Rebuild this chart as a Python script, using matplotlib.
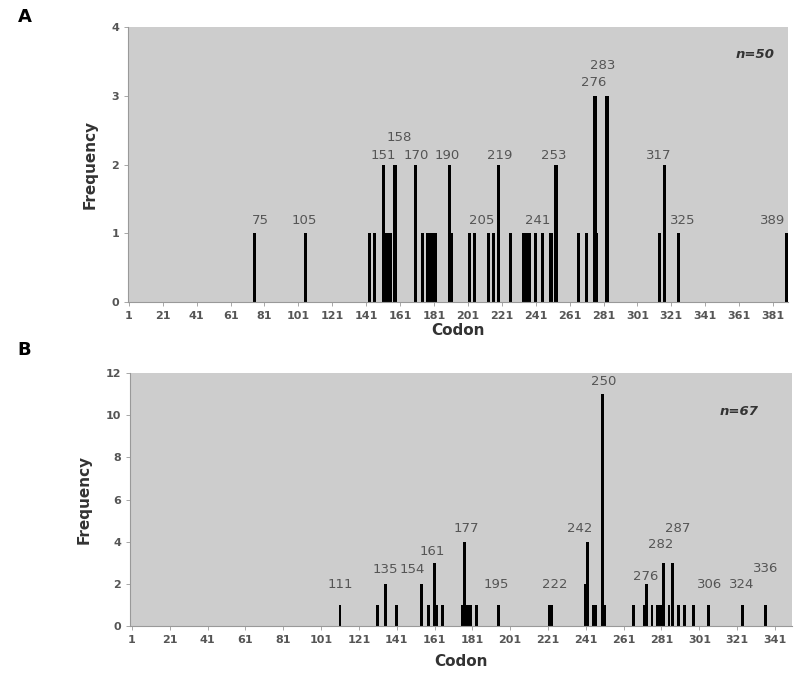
import numpy as np
import matplotlib.pyplot as plt

# Panel A: codon positions and mutation counts (n=50)
codons_a = [75, 105, 143, 146, 151, 152, 153, 154, 155, 158, 170, 174,
            177, 178, 179, 180, 182, 190, 191, 202, 205, 213, 216, 219,
            226, 234, 235, 237, 241, 245, 250, 253, 266, 271, 276, 277,
            283, 314, 317, 325, 389]
freq_a = [1, 1, 1, 1, 2, 1, 1, 1, 1, 2, 2, 1,
          1, 1, 1, 1, 1, 2, 1, 1, 1, 1, 1, 2,
          1, 1, 1, 1, 1, 1, 1, 2, 1, 1, 3, 1,
          3, 1, 2, 1, 1]
labels_a = ['75', '105', '151', '158', '170', '190', '205', '219', '241',
            '253', '276', '283', '317', '325', '389']
label_x_a = [78.6, 104.7, 151, 160.6, 170.8, 189, 209, 219.8, 242,
             251.8, 275, 280.6, 313.5, 328, 380.6]
label_y_a = [1.19, 1.19, 2.14, 2.39, 2.14, 2.14, 1.19, 2.14, 1.19,
             2.14, 3.2, 3.45, 2.14, 1.19, 1.19]

# Panel B: codon positions and mutation counts (n=67)
codons_b = [111, 131, 135, 141, 154, 158, 161, 162, 165, 176, 177, 178,
            179, 180, 183, 195, 222, 223, 241, 242, 245, 246, 250, 251,
            266, 272, 273, 276, 279, 280, 281, 282, 285, 287, 290, 293,
            298, 306, 324, 336]
freq_b = [1, 1, 2, 1, 2, 1, 3, 1, 1, 1, 4, 1,
          1, 1, 1, 1, 1, 1, 2, 4, 1, 1, 11, 1,
          1, 1, 2, 1, 1, 1, 1, 3, 1, 3, 1, 1,
          1, 1, 1, 1]
labels_b = ['111', '135', '154', '161', '177', '195', '222', '242', '250',
            '276', '282', '287', '306', '324', '336']
label_x_b = [111.1, 135, 149, 160, 177.8, 193.7, 224.5, 237.7, 250.4,
             272.8, 280.8, 289.3, 306.5, 323.3, 336]
label_y_b = [1.95, 2.7, 2.7, 3.52, 4.65, 1.95, 1.95, 4.65, 11.59,
             2.34, 3.89, 4.65, 1.95, 1.95, 2.75]

bg = '#cdcdcd'
tick_col = '#555555'
lab_col = '#555555'

fig = plt.figure(figsize=(8, 6.82), dpi=100)
ax_a = fig.add_axes([0.16, 0.557, 0.825, 0.403])
ax_b = fig.add_axes([0.1625, 0.082, 0.8275, 0.371])


def style(ax, xmax, xticks, ymax, ystep, xlab_y):
    ax.set_facecolor(bg)
    ax.set_xlim(0.5, xmax)
    ax.set_ylim(0, ymax)
    ax.set_xticks(xticks)
    ax.set_yticks(np.arange(0, ymax + 1, ystep))
    for s in ['top', 'right']:
        ax.spines[s].set_visible(False)
    for s in ['left', 'bottom']:
        ax.spines[s].set_color('#999999')
        ax.spines[s].set_linewidth(0.8)
    ax.tick_params(axis='both', colors='#999999', labelcolor=tick_col,
                   labelsize=8, length=3, width=0.6)
    for t in ax.get_xticklabels() + ax.get_yticklabels():
        t.set_fontweight('bold')
    ax.set_xlabel('Codon', fontsize=11, fontweight='bold', color='#333333')
    ax.xaxis.set_label_coords(0.5, xlab_y)
    ax.set_ylabel('Frequency', fontsize=11, fontweight='bold',
                  color='#333333', labelpad=10)


# Panel A
ax_a.bar(codons_a, freq_a, width=1.9, color='black', linewidth=0)
style(ax_a, 389.8, np.arange(1, 390, 20), 4, 1, -0.076)
for t, x, y in zip(labels_a, label_x_a, label_y_a):
    ax_a.text(x, y, t, ha='center', va='center', fontsize=9.5, color=lab_col)
ax_a.text(0.95, 0.9, 'n=50', transform=ax_a.transAxes,
          ha='center', va='center', fontsize=9.5, fontweight='bold',
          fontstyle='italic', color='#333333')

# Panel B
ax_b.bar(codons_b, freq_b, width=1.5, color='black', linewidth=0)
style(ax_b, 350, np.arange(1, 350, 20), 12, 2, -0.112)
ax_b.set_xlim(0, 350)
for t, x, y in zip(labels_b, label_x_b, label_y_b):
    ax_b.text(x, y, t, ha='center', va='center', fontsize=9.5, color=lab_col)
ax_b.text(0.92, 0.85, 'n=67', transform=ax_b.transAxes,
          ha='center', va='center', fontsize=9.5, fontweight='bold',
          fontstyle='italic', color='#333333')

fig.text(0.022, 0.975, 'A', fontsize=13, fontweight='bold', va='center')
fig.text(0.022, 0.487, 'B', fontsize=13, fontweight='bold', va='center')

fig.savefig('out.png', dpi=100, facecolor='white')
